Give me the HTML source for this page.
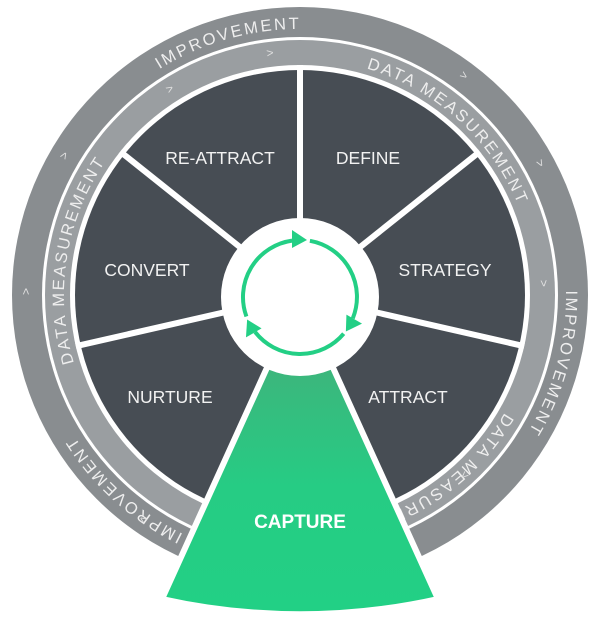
<!DOCTYPE html>
<html><head><meta charset="utf-8"><style>
html,body{margin:0;padding:0;background:#fff;}
svg{display:block;}
text{font-family:"Liberation Sans",sans-serif;}
</style></head><body>
<svg width="600" height="635" viewBox="0 0 600 635" xmlns="http://www.w3.org/2000/svg">
<defs>
<path id="p1" d="M300,561 A266,266 0 1 1 300,29 A266,266 0 1 1 300,561"/>
<path id="p2" d="M300,531 A236,236 0 1 1 300,59 A236,236 0 1 1 300,531"/>
<path id="c1" d="M300,565 A270,270 0 1 1 300,25 A270,270 0 1 1 300,565"/>
<path id="c2" d="M300,535 A240,240 0 1 1 300,55 A240,240 0 1 1 300,535"/>
<linearGradient id="g" x1="0" y1="0" x2="0" y2="1">
<stop offset="0" stop-color="#4aa877"/><stop offset="0.6" stop-color="#26cc84"/><stop offset="1" stop-color="#22d085"/>
</linearGradient>
</defs>
<circle cx="300" cy="295" r="288" fill="#898d90"/>
<circle cx="300" cy="295" r="258" fill="#fff"/>
<circle cx="300" cy="295" r="255" fill="#9a9ea1"/>
<circle cx="300" cy="295" r="230" fill="#fff"/>
<g fill="#eeeeee" font-size="16.5" letter-spacing="2.4">
<text><textPath href="#p1" startOffset="45.6%" text-anchor="middle">IMPROVEMENT</textPath></text>
<text><textPath href="#p2" startOffset="61.7%" text-anchor="middle">DATA MEASUREMENT</textPath></text>
<text><textPath href="#p1" startOffset="79.2%" text-anchor="middle">IMPROVEMENT</textPath></text>
<text><textPath href="#p2" startOffset="83.3%">DATA MEASUREMENT</textPath></text>
<text><textPath href="#p1" startOffset="11.7%" text-anchor="middle">IMPROVEMENT</textPath></text>
<text><textPath href="#p2" startOffset="27.5%" text-anchor="middle">DATA MEASUREMENT</textPath></text>
</g>
<g fill="#e0e0e0" font-size="12">
<text><textPath href="#c2" startOffset="47.8%">&gt;</textPath></text>
<text><textPath href="#c2" startOffset="40.8%">&gt;</textPath></text>
<text><textPath href="#c1" startOffset="33.3%">&gt;</textPath></text>
<text><textPath href="#c1" startOffset="25%">&gt;</textPath></text>
<text><textPath href="#c1" startOffset="9.5%">&gt;</textPath></text>
<text><textPath href="#c1" startOffset="66.8%">&gt;</textPath></text>
<text><textPath href="#c1" startOffset="60%">&gt;</textPath></text>
<text><textPath href="#c2" startOffset="74%">&gt;</textPath></text>
<text><textPath href="#c2" startOffset="88%">&gt;</textPath></text>
</g>
<circle cx="300" cy="295" r="225" fill="#474d54"/>
<g stroke="#fff" stroke-width="6">
<line x1="300" y1="295" x2="300" y2="65"/>
<line x1="300" y1="295" x2="479.8" y2="151.6"/>
<line x1="300" y1="295" x2="524.2" y2="346.2"/>
<line x1="300" y1="295" x2="75.8" y2="346.2"/>
<line x1="300" y1="295" x2="120.2" y2="151.6"/>
</g>
<path d="M300,295 L162,599 A633,633 0 0 0 438,599 Z" fill="url(#g)" stroke="#fff" stroke-width="6" stroke-linejoin="miter"/>
<circle cx="300" cy="297" r="79" fill="#fff"/>
<g fill="none" stroke="#23cf85" stroke-width="4">
<path d="M246.4,316.5 A57,57 0 0 1 292.1,240.6"/>
<path d="M246.4,316.5 A57,57 0 0 1 292.1,240.6" transform="rotate(120 300 297)"/>
<path d="M246.4,316.5 A57,57 0 0 1 292.1,240.6" transform="rotate(240 300 297)"/>
</g>
<g fill="#23cf85">
<polygon points="292,230 292,248 307,240"/>
<polygon points="292,230 292,248 307,240" transform="rotate(120 300 297)"/>
<polygon points="292,230 292,248 307,240" transform="rotate(240 300 297)"/>
</g>
<g fill="#f2f2f2" font-size="17.5" text-anchor="middle">
<text x="220" y="164">RE-ATTRACT</text>
<text x="368" y="164">DEFINE</text>
<text x="445" y="276">STRATEGY</text>
<text x="147" y="276">CONVERT</text>
<text x="408" y="403">ATTRACT</text>
<text x="170" y="403">NURTURE</text>
</g>
<text x="300" y="528" fill="#fff" font-size="19" font-weight="bold" text-anchor="middle">CAPTURE</text>
</svg>
</body></html>
